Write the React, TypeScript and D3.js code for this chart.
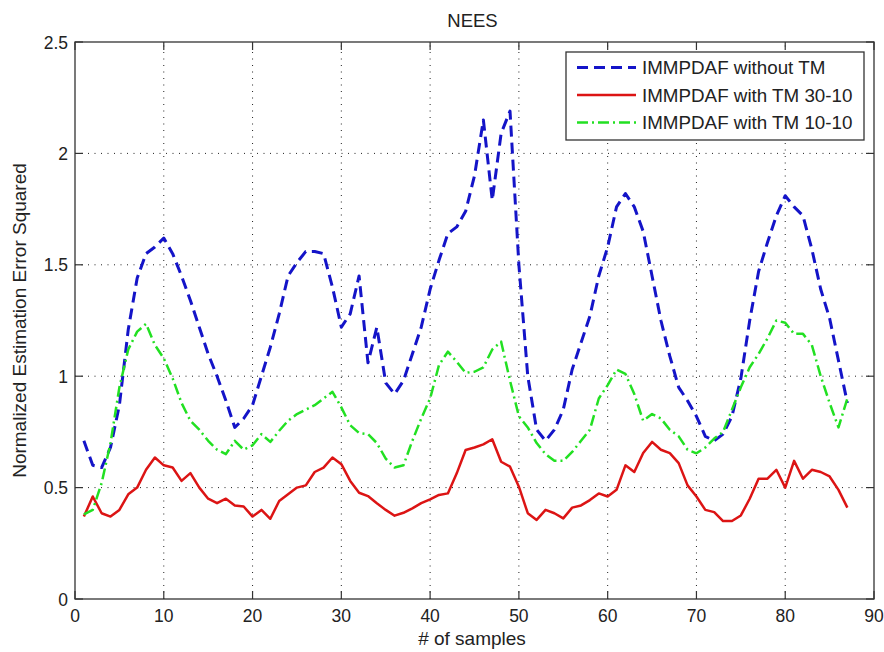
import React from "react";
import * as d3 from "d3";

const samples: number[] = d3.range(1, 88);

const withoutTM: number[] = [
  0.71, 0.60, 0.59, 0.68, 0.87, 1.21, 1.44, 1.55, 1.58, 1.62,
  1.55, 1.45, 1.34, 1.22, 1.10, 1.00, 0.89, 0.77, 0.81, 0.87,
  1.00, 1.13, 1.28, 1.45, 1.51, 1.56, 1.56, 1.55, 1.40, 1.22,
  1.28, 1.45, 1.06, 1.22, 0.97, 0.92, 0.98, 1.10, 1.22, 1.39,
  1.52, 1.64, 1.67, 1.74, 1.90, 2.15, 1.79, 2.09, 2.19, 1.50,
  1.00, 0.76, 0.71, 0.76, 0.85, 1.03, 1.15, 1.27, 1.45, 1.58,
  1.76, 1.82, 1.76, 1.65, 1.45, 1.25, 1.09, 0.95, 0.89, 0.82,
  0.73, 0.71, 0.74, 0.82, 0.99, 1.25, 1.47, 1.60, 1.72, 1.81,
  1.76, 1.72, 1.57, 1.39, 1.26, 1.07, 0.88,
];

const withTM3010: number[] = [
  0.37, 0.46, 0.385, 0.37, 0.40, 0.47, 0.50, 0.58, 0.635, 0.60,
  0.59, 0.53, 0.565, 0.50, 0.45, 0.43, 0.45, 0.42, 0.415, 0.37,
  0.40, 0.36, 0.44, 0.47, 0.50, 0.51, 0.57, 0.59, 0.635, 0.605,
  0.53, 0.477, 0.462, 0.43, 0.40, 0.374, 0.387, 0.407, 0.43, 0.447,
  0.467, 0.474, 0.564, 0.669, 0.68, 0.694, 0.717, 0.616, 0.594, 0.504,
  0.385, 0.355, 0.40, 0.385, 0.362, 0.41, 0.42, 0.444, 0.474, 0.46,
  0.49, 0.60, 0.57, 0.655, 0.705, 0.67, 0.655, 0.61, 0.51, 0.46,
  0.40, 0.39, 0.35, 0.35, 0.375, 0.45, 0.54, 0.54, 0.58, 0.50,
  0.62, 0.54, 0.58, 0.57, 0.55, 0.49, 0.41,
];

const withTM1010: number[] = [
  0.38, 0.40, 0.52, 0.70, 0.95, 1.12, 1.20, 1.235, 1.14, 1.08,
  0.99, 0.88, 0.80, 0.76, 0.71, 0.67, 0.65, 0.71, 0.67, 0.69,
  0.74, 0.705, 0.755, 0.80, 0.83, 0.85, 0.87, 0.90, 0.93, 0.86,
  0.78, 0.745, 0.74, 0.70, 0.63, 0.59, 0.60, 0.71, 0.81, 0.90,
  1.05, 1.11, 1.065, 1.015, 1.02, 1.04, 1.12, 1.155, 0.98, 0.82,
  0.77, 0.70, 0.65, 0.62, 0.62, 0.66, 0.71, 0.76, 0.90, 0.96,
  1.03, 1.01, 0.92, 0.80, 0.83, 0.81, 0.76, 0.73, 0.67, 0.654,
  0.68, 0.72, 0.75, 0.85, 0.95, 1.04, 1.10, 1.17, 1.25, 1.24,
  1.19, 1.19, 1.14, 1.00, 0.88, 0.77, 0.90,
];

const xTicks: number[] = [0, 10, 20, 30, 40, 50, 60, 70, 80, 90];
const yTicks: number[] = [0, 0.5, 1, 1.5, 2, 2.5];
const yTickLabels: string[] = ["0", "0.5", "1", "1.5", "2", "2.5"];

const seriesNames: string[] = [
  "IMMPDAF without TM",
  "IMMPDAF with TM 30-10",
  "IMMPDAF with TM 10-10",
];
const seriesColors: string[] = ["#1414c8", "#dc1414", "#22e022"];
const seriesDash: string[] = ["11,6", "none", "11,4,2,4"];
const seriesWidth: number[] = [3, 2.5, 2.5];

const W = 884;
const H = 652;
const L = 75;
const R = 874;
const T = 42;
const B = 599;

export default function App() {
  const x = d3.scaleLinear().domain([0, 90]).range([L, R]);
  const y = d3.scaleLinear().domain([0, 2.5]).range([B, T]);
  const seriesData = [withoutTM, withTM3010, withTM1010];
  const line = d3
    .line<number>()
    .x((_, i) => x(samples[i]))
    .y((d) => y(d));

  const font = "'Liberation Sans', Arial, sans-serif";
  const legL = 566;
  const legT = 52;
  const legR = 864;
  const legB = 140;
  const rowY = [67.5, 95, 122.5];

  return (
    <svg
      width={W}
      height={H}
      viewBox={`0 0 ${W} ${H}`}
      style={{ position: "absolute", left: 0, top: 0, background: "#fff" }}
    >
      <rect x={0} y={0} width={W} height={H} fill="#fff" />
      {/* grid */}
      <g stroke="#222" strokeWidth={1} strokeDasharray="1,5.5">
        {xTicks.slice(1, -1).map((t) => (
          <line key={"gx" + t} x1={x(t)} x2={x(t)} y1={B} y2={T} />
        ))}
        {yTicks.slice(1, -1).map((t) => (
          <line key={"gy" + t} x1={L} x2={R} y1={y(t)} y2={y(t)} />
        ))}
      </g>
      {/* ticks */}
      <g stroke="#333" strokeWidth={1.2}>
        {xTicks.map((t) => (
          <g key={"tx" + t}>
            <line x1={x(t)} x2={x(t)} y1={B} y2={B - 8} />
            <line x1={x(t)} x2={x(t)} y1={T} y2={T + 8} />
          </g>
        ))}
        {yTicks.map((t) => (
          <g key={"ty" + t}>
            <line x1={L} x2={L + 8} y1={y(t)} y2={y(t)} />
            <line x1={R} x2={R - 8} y1={y(t)} y2={y(t)} />
          </g>
        ))}
      </g>
      {/* series */}
      {seriesData.map((s, i) => (
        <path
          key={"s" + i}
          d={line(s) || ""}
          fill="none"
          stroke={seriesColors[i]}
          strokeWidth={seriesWidth[i]}
          strokeDasharray={seriesDash[i]}
          strokeLinejoin="round"
        />
      ))}
      {/* frame */}
      <rect x={L} y={T} width={R - L} height={B - T} fill="none" stroke="#333" strokeWidth={1.3} />
      {/* tick labels */}
      <g fontFamily={font} fontSize={17.5} fill="#222">
        {xTicks.map((t) => (
          <text key={"lx" + t} x={x(t)} y={622} textAnchor="middle">
            {t}
          </text>
        ))}
        {yTicks.map((t, i) => (
          <text key={"ly" + t} x={68} y={y(t) + 6.5} textAnchor="end">
            {yTickLabels[i]}
          </text>
        ))}
      </g>
      {/* title and labels */}
      <text x={472.5} y={27} textAnchor="middle" fontFamily={font} fontSize={18.5} fill="#222">
        NEES
      </text>
      <text x={472} y={645} textAnchor="middle" fontFamily={font} fontSize={19} fill="#222">
        # of samples
      </text>
      <text
        transform={`translate(26,${(T + B) / 2}) rotate(-90)`}
        textAnchor="middle"
        fontFamily={font}
        fontSize={19}
        fill="#222"
      >
        Normalized Estimation Error Squared
      </text>
      {/* legend */}
      <rect x={legL} y={legT} width={legR - legL} height={legB - legT} fill="#fff" stroke="#333" strokeWidth={1.3} />
      {seriesNames.map((n, i) => (
        <g key={"lg" + i}>
          <line
            x1={577}
            x2={636}
            y1={rowY[i]}
            y2={rowY[i]}
            stroke={seriesColors[i]}
            strokeWidth={seriesWidth[i]}
            strokeDasharray={seriesDash[i]}
          />
          <text x={642} y={rowY[i] + 6.5} fontFamily={font} fontSize={18.8} fill="#222">
            {n}
          </text>
        </g>
      ))}
    </svg>
  );
}
